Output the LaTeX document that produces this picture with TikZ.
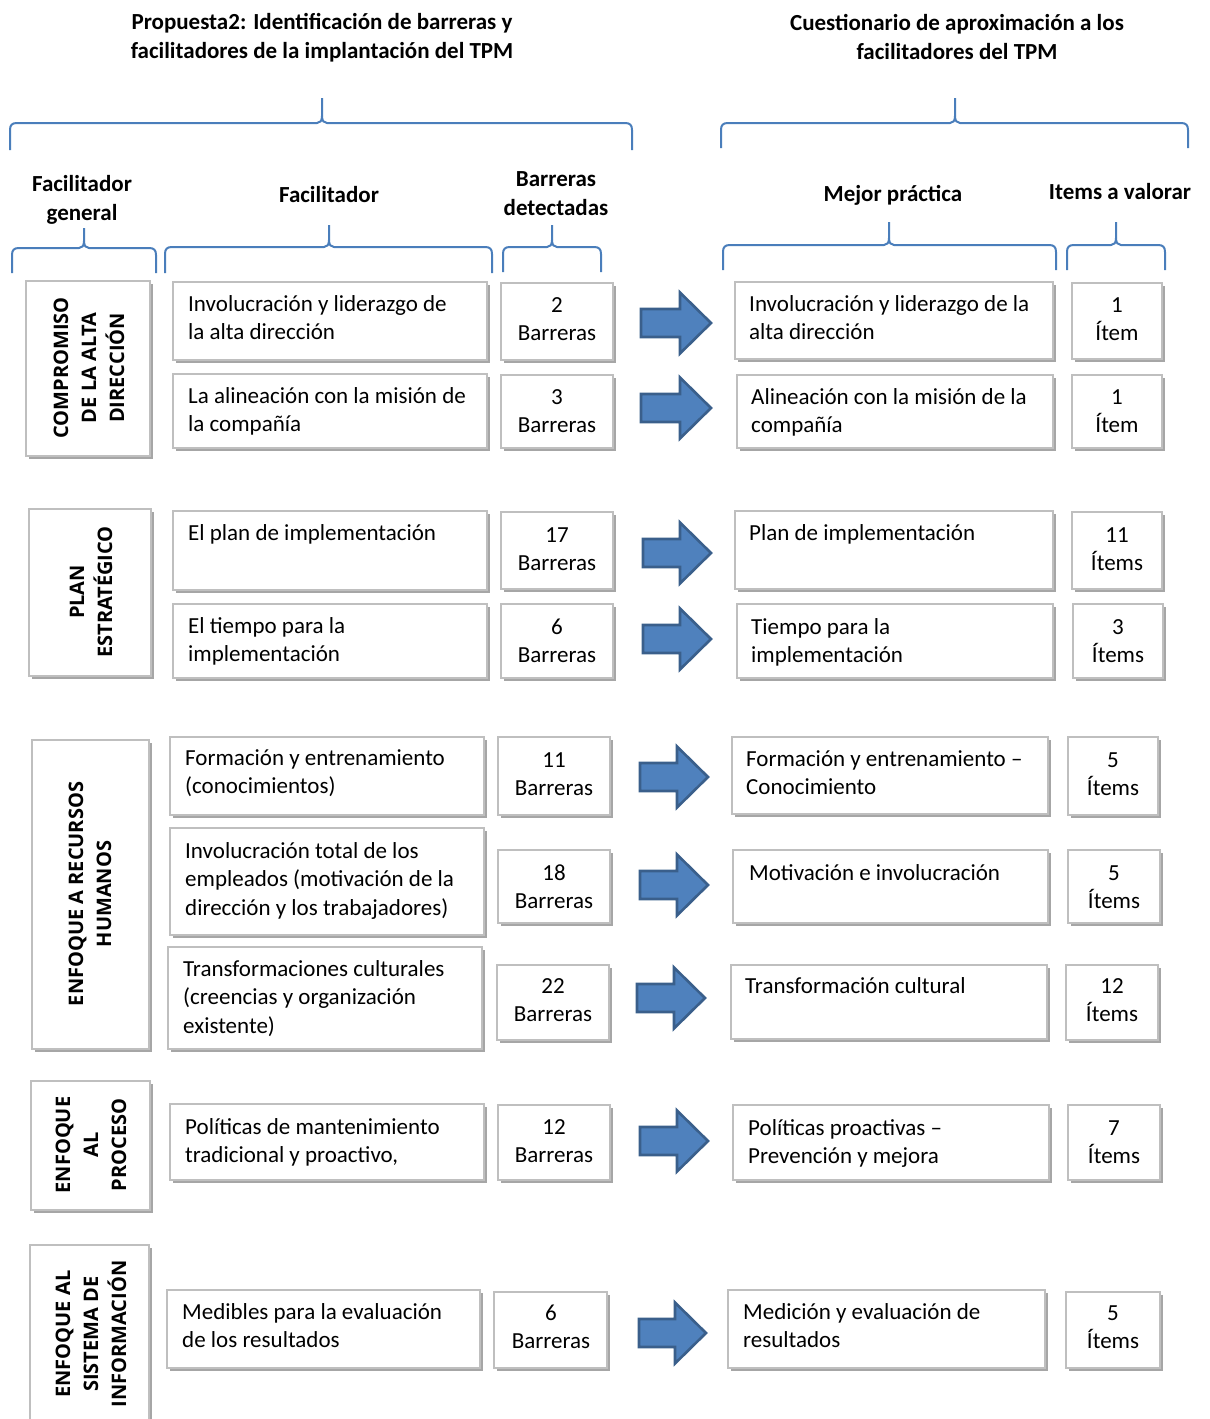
\documentclass[tikz,border=0pt]{standalone}
\usepackage{fontspec}
\setmainfont{Carlito}
\newfontfamily\vlabfont{Open Sans}
\definecolor{braceblue}{HTML}{4A7EBB}
\definecolor{arrowfill}{HTML}{4F81BD}
\definecolor{arrowline}{HTML}{3A5F8B}
\definecolor{frame}{HTML}{BFBFBF}
\definecolor{shade}{HTML}{A6A6A6}
\tikzset{
  brc/.style={draw=braceblue, line width=2pt, line join=round},
  boxframe/.style={draw=frame, fill=white, line width=1.5pt, inner sep=0pt, outer sep=0pt},
  boxshade/.style={fill=shade},
  bodytxt/.style={font=\fontsize{23}{28.5}\selectfont, align=left, inner sep=0pt, anchor=base west},
  numtxt/.style={font=\fontsize{23}{28.5}\selectfont, align=center, inner sep=0pt, anchor=base},
  headtxt/.style={font=\bfseries\fontsize{23}{29}\selectfont, align=center, inner sep=0pt, anchor=base},
  vlab/.style={font=\vlabfont\bfseries\fontsize{20}{28}\selectfont, align=center, inner sep=0pt, rotate=90},
  blockarrow/.style={fill=arrowfill, draw=arrowline, line width=2.6pt, line join=miter}
}
% framed box with a small drop shadow: name, x1, y1, x2, y2
\newcommand\shbox[5]{%
  \fill[boxshade] ({#2+2.5},{#3+2.5}) rectangle ({#4+2.5},{#5+2.5});
  \node[boxframe, minimum width={(#4-#2)*1pt}, minimum height={(#5-#3)*1pt}]
    (#1) at ({(#2+#4)/2},{(#3+#5)/2}) {};
}
% curly bracket: x1, x2, y of ends, y of bar, x of tip, y of tip
\newcommand\curlybar[6]{%
  \draw[brc] (#1,#3) -- (#1,{#4+7}) .. controls (#1,{#4+2}) and ({#1+2},#4) .. ({#1+7},#4)
    -- ({#5-5},#4) .. controls ({#5-2},#4) and (#5,{#4-2}) .. (#5,{#4-7}) -- (#5,#6);
  \draw[brc] (#5,{#4-7}) .. controls (#5,{#4-2}) and ({#5+2},#4) .. ({#5+5},#4)
    -- ({#2-7},#4) .. controls ({#2-2},#4) and (#2,{#4+2}) .. (#2,{#4+7}) -- (#2,#3);
}
% block arrow: name, x start, x tip, y centre
\newcommand\barrow[4]{%
  \coordinate (#1) at (#2,#4);
  \draw[blockarrow] (#1) ++(0,-14) -- ({#3-31},{#4-14}) -- ({#3-31},{#4-30.5}) -- (#3,#4)
    -- ({#3-31},{#4+30.5}) -- ({#3-31},{#4+14}) -- (#2,{#4+14}) -- cycle;
}
\begin{document}
\begin{tikzpicture}[x=1pt,y=-1pt]
\useasboundingbox (0,0) rectangle (1210,1419);
\clip (0,0) rectangle (1210,1419);

% titles (a multi-line node sits on the baseline of its last line)
\node[headtxt] (title1) at (322,58.5) {Propuesta2: Identificación de barreras y\\facilitadores de la implantación del TPM};
\node[headtxt] (title2) at (957,59.5) {Cuestionario de aproximación a los\\facilitadores del TPM};

\curlybar{10}{632}{150}{123}{322}{98}
\curlybar{721}{1188}{148}{123}{955}{98}

% column headings
\node[headtxt] (hgen) at (82,220.5) {Facilitador\\general};
\node[headtxt] (hfac) at (329,202.5) {Facilitador};
\node[headtxt] (hbar) at (556,215.5) {Barreras\\detectadas};
\node[headtxt] (hmej) at (893,201.5) {Mejor práctica};
\node[headtxt] (hite) at (1120,199.5) {Items a valorar};

\curlybar{12}{156}{273}{248}{84}{228}
\curlybar{165}{492}{273}{247}{329}{225}
\curlybar{503}{601}{272}{247}{552}{225}
\curlybar{723}{1056}{270}{245}{889}{222}
\curlybar{1067}{1165}{270}{245}{1116}{222}

% general facilitator groups
\shbox{g1}{26}{281}{150}{456}
\node[vlab] (g1t) at (89,368) {COMPROMISO\\DE LA ALTA\\DIRECCIÓN};
\shbox{g2}{29}{509}{151}{676}
\node[vlab] (g2t) at (91,592) {PLAN\\ESTRATÉGICO};
\shbox{g3}{32}{740}{149}{1049}
\node[vlab] (g3t) at (90,894) {ENFOQUE A RECURSOS\\HUMANOS};
\shbox{g4}{31}{1081}{150}{1210}
\node[vlab] (g4t) at (91,1145) {ENFOQUE\\AL\\PROCESO};
\shbox{g5}{30}{1245}{149}{1440}
\node[vlab] (g5t) at (91,1334) {ENFOQUE AL\\SISTEMA DE\\INFORMACIÓN};

% row 1
\shbox{f1}{173}{282}{487}{360}
\node[bodytxt] (f1t) at (188,339.5) {Involucración y liderazgo de\\la alta dirección};
\shbox{b1}{501}{283}{613}{360}
\node[numtxt] (b1t) at (557,340.5) {2\\Barreras};
\barrow{a1}{641}{711}{323}
\shbox{m1}{735}{282}{1053}{359}
\node[bodytxt] (m1t) at (749,339.5) {Involucración y liderazgo de la\\alta dirección};
\shbox{i1}{1072}{283}{1162}{359}
\node[numtxt] (i1t) at (1117,340.5) {1\\Ítem};

% row 2
\shbox{f2}{173}{374}{487}{448}
\node[bodytxt] (f2t) at (188,431.5) {La alineación con la misión de\\la compañía};
\shbox{b2}{501}{375}{613}{448}
\node[numtxt] (b2t) at (557,432.5) {3\\Barreras};
\barrow{a2}{641}{711}{408}
\shbox{m2}{737}{375}{1053}{448}
\node[bodytxt] (m2t) at (751,432.5) {Alineación con la misión de la\\compañía};
\shbox{i2}{1072}{375}{1162}{448}
\node[numtxt] (i2t) at (1117,432.5) {1\\Ítem};

% row 3
\shbox{f3}{173}{511}{487}{590}
\node[bodytxt] (f3t) at (188,540) {El plan de implementación};
\shbox{b3}{501}{512}{613}{589}
\node[numtxt] (b3t) at (557,570.5) {17\\Barreras};
\barrow{a3}{643}{711}{553}
\shbox{m3}{735}{511}{1053}{589}
\node[bodytxt] (m3t) at (749,540) {Plan de implementación};
\shbox{i3}{1072}{512}{1162}{589}
\node[numtxt] (i3t) at (1117,570.5) {11\\Ítems};

% row 4
\shbox{f4}{173}{604}{487}{678}
\node[bodytxt] (f4t) at (188,661.5) {El tiempo para la\\implementación};
\shbox{b4}{501}{604}{613}{678}
\node[numtxt] (b4t) at (557,662.5) {6\\Barreras};
\barrow{a4}{643}{711}{639}
\shbox{m4}{737}{604}{1053}{678}
\node[bodytxt] (m4t) at (751,662.5) {Tiempo para la\\implementación};
\shbox{i4}{1073}{604}{1163}{678}
\node[numtxt] (i4t) at (1118,662.5) {3\\Ítems};

% row 5
\shbox{f5}{170}{737}{484}{815}
\node[bodytxt] (f5t) at (185,793.5) {Formación y entrenamiento\\(conocimientos)};
\shbox{b5}{498}{737}{610}{815}
\node[numtxt] (b5t) at (554,795.5) {11\\Barreras};
\barrow{a5}{640}{708}{777}
\shbox{m5}{732}{737}{1048}{814}
\node[bodytxt] (m5t) at (746,794.5) {Formación y entrenamiento –\\Conocimiento};
\shbox{i5}{1068}{737}{1158}{815}
\node[numtxt] (i5t) at (1113,795.5) {5\\Ítems};

% row 6
\shbox{f6}{170}{828}{484}{935}
\node[bodytxt] (f6t) at (185,915) {Involucración total de los\\empleados (motivación de la\\dirección y los trabajadores)};
\shbox{b6}{498}{850}{610}{923}
\node[numtxt] (b6t) at (554,908.5) {18\\Barreras};
\barrow{a6}{640}{708}{885}
\shbox{m6}{733}{850}{1048}{923}
\node[bodytxt] (m6t) at (749,880) {Motivación e involucración};
\shbox{i6}{1068}{850}{1160}{923}
\node[numtxt] (i6t) at (1114,908.5) {5\\Ítems};

% row 7
\shbox{f7}{168}{947}{482}{1049}
\node[bodytxt] (f7t) at (183,1033) {Transformaciones culturales\\(creencias y organización\\existente)};
\shbox{b7}{497}{965}{609}{1040}
\node[numtxt] (b7t) at (553,1021.5) {22\\Barreras};
\barrow{a7}{637}{705}{998}
\shbox{m7}{731}{965}{1047}{1039}
\node[bodytxt] (m7t) at (745,993) {Transformación cultural};
\shbox{i7}{1066}{965}{1158}{1040}
\node[numtxt] (i7t) at (1112,1021.5) {12\\Ítems};

% row 8
\shbox{f8}{170}{1104}{484}{1180}
\node[bodytxt] (f8t) at (185,1162.5) {Políticas de mantenimiento\\tradicional y proactivo,};
\shbox{b8}{498}{1105}{610}{1180}
\node[numtxt] (b8t) at (554,1162.5) {12\\Barreras};
\barrow{a8}{640}{708}{1141}
\shbox{m8}{733}{1105}{1049}{1180}
\node[bodytxt] (m8t) at (748,1163.5) {Políticas proactivas –\\Prevención y mejora};
\shbox{i8}{1068}{1105}{1160}{1180}
\node[numtxt] (i8t) at (1114,1163.5) {7\\Ítems};

% row 9
\shbox{f9}{167}{1290}{480}{1368}
\node[bodytxt] (f9t) at (182,1347.5) {Medibles para la evaluación\\de los resultados};
\shbox{b9}{494}{1292}{607}{1368}
\node[numtxt] (b9t) at (551,1348.5) {6\\Barreras};
\barrow{a9}{639}{706}{1333}
\shbox{m9}{728}{1290}{1045}{1368}
\node[bodytxt] (m9t) at (743,1347.5) {Medición y evaluación de\\resultados};
\shbox{i9}{1066}{1292}{1160}{1368}
\node[numtxt] (i9t) at (1113,1348.5) {5\\Ítems};
\end{tikzpicture}
\end{document}
